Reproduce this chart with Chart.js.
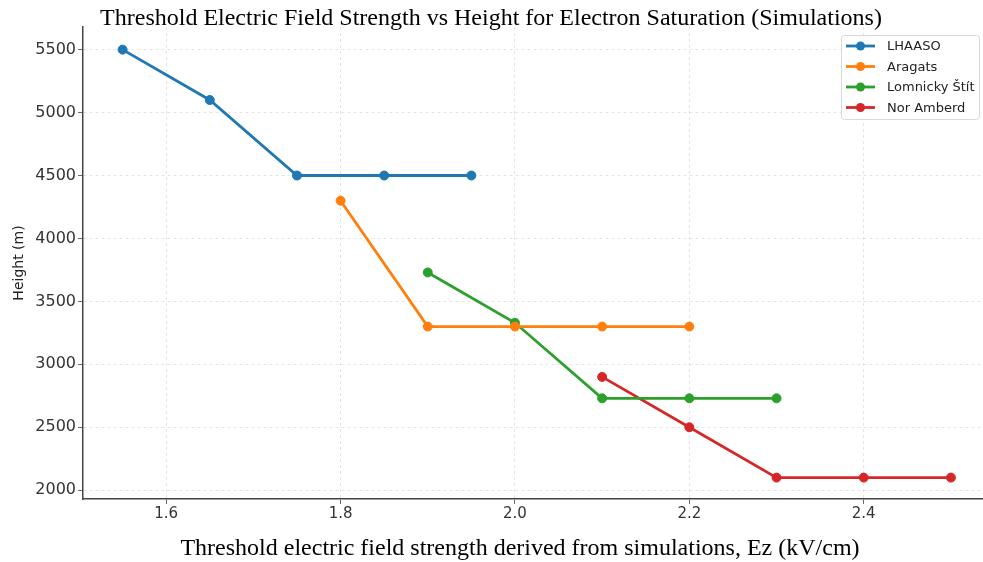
<!DOCTYPE html>
<html>
<head>
<meta charset="utf-8">
<script src="https://cdn.jsdelivr.net/npm/chart.js@4/dist/chart.umd.min.js"></script>
<style>
  html, body { margin: 0; padding: 0; background: #fff; overflow: hidden; }
  #wrap { width: 983px; height: 562px; position: relative; }
</style>
</head>
<body>
<div id="wrap"><canvas id="chart"></canvas></div>
<script>
// Data
const seriesNames = ["LHAASO", "Aragats", "Lomnicky Štít", "Nor Amberd"];
const seriesColors = ["#1f77b4", "#ff7f0e", "#2ca02c", "#d62728"];

const lhaasoEz = [1.55, 1.65, 1.75, 1.85, 1.95];
const lhaasoHeight = [5500, 5100, 4500, 4500, 4500];

const aragatsEz = [1.8, 1.9, 2.0, 2.1, 2.2];
const aragatsHeight = [4300, 3300, 3300, 3300, 3300];

const lomnickyEz = [1.9, 2.0, 2.1, 2.2, 2.3];
const lomnickyHeight = [3730, 3330, 2730, 2730, 2730];

const norAmberdEz = [2.1, 2.2, 2.3, 2.4, 2.5];
const norAmberdHeight = [2900, 2500, 2100, 2100, 2100];

const xTicks = [1.6, 1.8, 2.0, 2.2, 2.4];
const yTicks = [2000, 2500, 3000, 3500, 4000, 4500, 5000, 5500];

const titleText = "Threshold Electric Field Strength vs Height for Electron Saturation (Simulations)";
const xTitle = "Threshold electric field strength derived from simulations, Ez (kV/cm)";
const yTitle = "Height (m)";

function toPoints(xs, ys) {
    return xs.map((x, i) => ({ x: x, y: ys[i] }));
}

const allX = [lhaasoEz, aragatsEz, lomnickyEz, norAmberdEz];
const allY = [lhaasoHeight, aragatsHeight, lomnickyHeight, norAmberdHeight];

const datasets = seriesNames.map((name, i) => ({
    label: name,
    data: toPoints(allX[i], allY[i]),
    borderColor: seriesColors[i],
    backgroundColor: seriesColors[i],
    pointBackgroundColor: seriesColors[i],
    pointBorderColor: seriesColors[i],
    borderWidth: 2.8,
    pointRadius: 4.5,
    pointBorderWidth: 1,
    tension: 0,
    fill: false
}));

// title, x label and legend drawn by hand so they sit where the original has them
const extras = {
    id: "extras",
    afterDraw(chart) {
        const ctx = chart.ctx;
        ctx.save();
        ctx.fillStyle = "#000";
        ctx.font = "24px 'Liberation Serif'";
        ctx.textAlign = "center";
        ctx.textBaseline = "middle";
        ctx.fillText(titleText, 491, 19);
        ctx.fillText(xTitle, 520, 549);

        // legend box
        const bx = 841, by = 35, bw = 138, bh = 84;
        ctx.fillStyle = "rgba(255,255,255,0.85)";
        ctx.strokeStyle = "#d8d8d8";
        ctx.lineWidth = 1;
        ctx.beginPath();
        ctx.roundRect(bx + 0.5, by + 0.5, bw, bh, 3);
        ctx.fill();
        ctx.stroke();

        ctx.font = "13px 'DejaVu Sans'";
        ctx.textAlign = "left";
        chart.data.datasets.forEach((ds, i) => {
            const yy = by + 11 + i * 20.5;
            ctx.strokeStyle = ds.borderColor;
            ctx.lineWidth = 2.8;
            ctx.beginPath();
            ctx.moveTo(846, yy);
            ctx.lineTo(875, yy);
            ctx.stroke();
            ctx.fillStyle = ds.borderColor;
            ctx.beginPath();
            ctx.arc(860.5, yy, 4.5, 0, 2 * Math.PI);
            ctx.fill();
            ctx.fillStyle = "#222";
            ctx.fillText(ds.label, 887, yy + 1);
        });
        ctx.restore();
    }
};

new Chart(document.getElementById("chart"), {
    type: "line",
    data: { datasets: datasets },
    plugins: [extras],
    options: {
        responsive: true,
        maintainAspectRatio: false,
        animation: false,
        layout: { autoPadding: false, padding: { top: 27, left: 0, right: 0, bottom: 0 } },
        plugins: {
            legend: { display: false },
            title: { display: false },
            tooltip: { enabled: false }
        },
        scales: {
            x: {
                type: "linear",
                min: 1.5046,
                max: 2.5368,
                afterBuildTicks(scale) {
                    scale.ticks = xTicks.map(v => ({ value: v }));
                },
                afterFit(scale) {
                    scale.height = 63;
                    scale.paddingRight = 0;
                    scale.paddingLeft = 0;
                },
                ticks: {
                    color: "#333",
                    font: { family: "'DejaVu Sans'", size: 15 },
                    padding: 1,
                    callback: v => v.toFixed(1)
                },
                grid: {
                    color: "rgba(0,0,0,0.13)",
                    tickColor: "#444",
                    tickLength: 5,
                    lineWidth: 0.8
                },
                border: { color: "#444", width: 1.5, dash: [3, 3] }
            },
            y: {
                min: 1930,
                max: 5680,
                afterBuildTicks(scale) {
                    scale.ticks = yTicks.map(v => ({ value: v }));
                },
                afterFit(scale) { scale.width = 83; },
                ticks: {
                    color: "#333",
                    font: { family: "'DejaVu Sans'", size: 16 },
                    padding: 2,
                    callback: v => String(v)
                },
                grid: {
                    color: "rgba(0,0,0,0.13)",
                    tickColor: "#444",
                    tickLength: 5,
                    lineWidth: 0.8
                },
                border: { color: "#444", width: 1.5, dash: [3, 3] },
                title: {
                    display: true,
                    text: yTitle,
                    color: "#222",
                    font: { family: "'DejaVu Sans'", size: 14 },
                    padding: { top: 11, bottom: 2 }
                }
            }
        }
    }
});
</script>
</body>
</html>
